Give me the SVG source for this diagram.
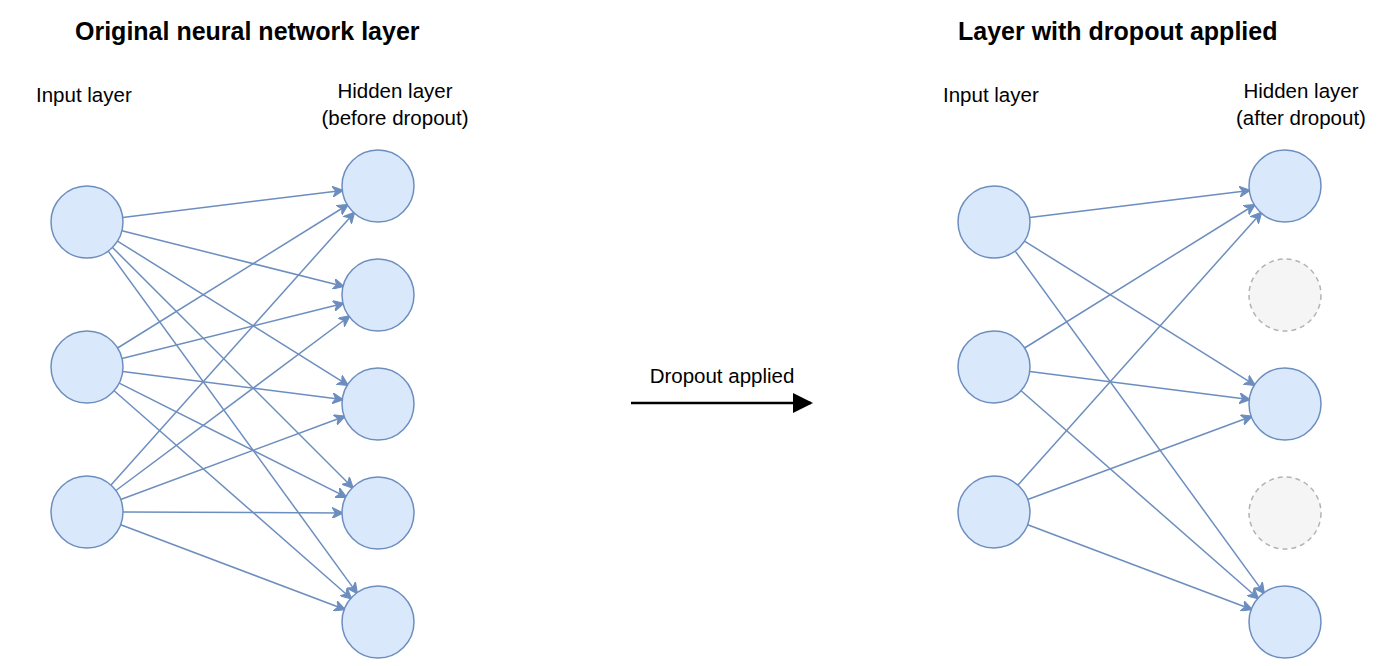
<svg xmlns="http://www.w3.org/2000/svg" width="1400" height="666" viewBox="0 0 1400 666">
<style>
text{font-family:"Liberation Sans",Arial,sans-serif;fill:#000}
.t{font-size:25px;font-weight:bold}
.l{font-size:20.5px}
.n{fill:#dae8fc;stroke:#6c8ebf;stroke-width:1.5}
.d{fill:#f5f5f5;stroke:#b3b3b3;stroke-width:1.5;stroke-dasharray:5 4}
.e line{stroke:#6c8ebf;stroke-width:1.5;marker-end:url(#a)}
</style>
<defs>
<marker id="a" viewBox="0 0 10 10" refX="9" refY="5" markerWidth="11" markerHeight="11" orient="auto" markerUnits="userSpaceOnUse"><path d="M0,0 L10,5 L0,10 L3,5 Z" fill="#6c8ebf" stroke="#6c8ebf" stroke-width="1"/></marker>
<marker id="b" viewBox="0 0 10 10" refX="9" refY="5" markerWidth="20" markerHeight="20" orient="auto" markerUnits="userSpaceOnUse"><path d="M0,0 L10,5 L0,10 Z" fill="#000"/></marker>
</defs>
<rect width="1400" height="666" fill="#fff"/>
<text class="t" x="75" y="40">Original neural network layer</text>
<text class="t" x="958" y="40">Layer with dropout applied</text>
<text class="l" x="36" y="102">Input layer</text>
<text class="l" x="395" y="98" text-anchor="middle">Hidden layer</text>
<text class="l" x="395" y="125" text-anchor="middle">(before dropout)</text>
<text class="l" x="943" y="102">Input layer</text>
<text class="l" x="1301" y="98" text-anchor="middle">Hidden layer</text>
<text class="l" x="1301" y="125" text-anchor="middle">(after dropout)</text>
<text class="l" x="722" y="383" text-anchor="middle">Dropout applied</text>
<g id="connectors" class="e">
<line x1="122.7" y1="217.6" x2="342.3" y2="190.4"/>
<line x1="121.9" y1="230.8" x2="343.1" y2="286.2"/>
<line x1="117.5" y1="241.1" x2="347.5" y2="384.9"/>
<line x1="112.5" y1="247.5" x2="352.5" y2="487.5"/>
<line x1="108.2" y1="251.1" x2="356.8" y2="592.9"/>
<line x1="117.6" y1="348" x2="347.4" y2="205"/>
<line x1="121.9" y1="358.4" x2="343.1" y2="303.6"/>
<line x1="122.7" y1="371.5" x2="342.3" y2="399.5"/>
<line x1="119.2" y1="383.1" x2="345.8" y2="496.9"/>
<line x1="114.1" y1="390.7" x2="350.9" y2="598.3"/>
<line x1="111" y1="485.1" x2="354" y2="212.9"/>
<line x1="115.9" y1="490.5" x2="349.1" y2="316.5"/>
<line x1="120.7" y1="499.5" x2="344.3" y2="416.5"/>
<line x1="123" y1="512" x2="342" y2="513"/>
<line x1="120.7" y1="524.7" x2="344.3" y2="609.3"/>
<line x1="1029.7" y1="217.6" x2="1249.3" y2="190.4"/>
<line x1="1024.5" y1="241.1" x2="1254.5" y2="384.9"/>
<line x1="1015.2" y1="251.1" x2="1263.8" y2="592.9"/>
<line x1="1024.6" y1="348" x2="1254.4" y2="205"/>
<line x1="1029.7" y1="371.5" x2="1249.3" y2="399.5"/>
<line x1="1021.1" y1="390.7" x2="1257.9" y2="598.3"/>
<line x1="1018" y1="485.1" x2="1261" y2="212.9"/>
<line x1="1027.7" y1="499.5" x2="1251.3" y2="416.5"/>
<line x1="1027.7" y1="524.7" x2="1251.3" y2="609.3"/>
<line x1="631" y1="403" x2="811" y2="403" style="stroke:#000;stroke-width:2.5;marker-end:url(#b)"/>
</g>
<g id="in1"><circle class="n" cx="87" cy="222" r="36"/></g>
<g id="in2"><circle class="n" cx="87" cy="367" r="36"/></g>
<g id="in3"><circle class="n" cx="87" cy="512" r="36"/></g>
<g id="h1"><circle class="n" cx="378" cy="186" r="36"/></g>
<g id="h2"><circle class="n" cx="378" cy="295" r="36"/></g>
<g id="h3"><circle class="n" cx="378" cy="404" r="36"/></g>
<g id="h4"><circle class="n" cx="378" cy="513" r="36"/></g>
<g id="h5"><circle class="n" cx="378" cy="622" r="36"/></g>
<g id="rin1"><circle class="n" cx="994" cy="222" r="36"/></g>
<g id="rin2"><circle class="n" cx="994" cy="367" r="36"/></g>
<g id="rin3"><circle class="n" cx="994" cy="512" r="36"/></g>
<g id="rh1"><circle class="n" cx="1285" cy="186" r="36"/></g>
<g id="rh2"><circle class="d" cx="1285" cy="295" r="36"/></g>
<g id="rh3"><circle class="n" cx="1285" cy="404" r="36"/></g>
<g id="rh4"><circle class="d" cx="1285" cy="513" r="36"/></g>
<g id="rh5"><circle class="n" cx="1285" cy="622" r="36"/></g>
</svg>
